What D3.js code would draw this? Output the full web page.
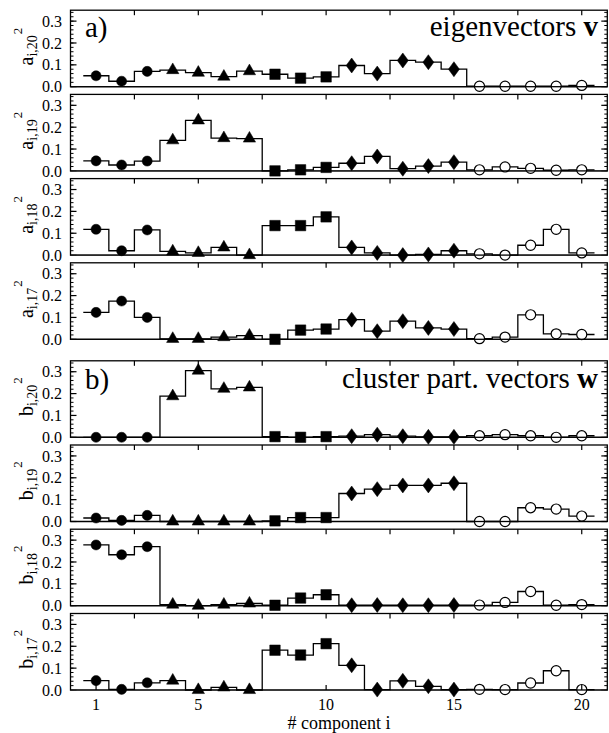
<!DOCTYPE html>
<html><head><meta charset="utf-8">
<script src="https://cdn.jsdelivr.net/npm/d3@7"></script>
<style>body{margin:0;background:#fff}svg{display:block}text{font-family:"Liberation Serif","Times New Roman",serif;fill:#000}</style>
</head><body>
<svg id="c" width="609" height="733"></svg>
<script>
const components = d3.range(1, 21);
const markerGroups = ["circle","circle","circle","triangle","triangle","triangle","triangle","square","square","square","diamond","diamond","diamond","diamond","diamond","open","open","open","open","open"];
const a20 = [0.050,0.025,0.070,0.076,0.064,0.046,0.071,0.057,0.039,0.045,0.097,0.060,0.120,0.112,0.080,0.002,0.002,0.002,0.002,0.006];
const a19 = [0.046,0.027,0.045,0.140,0.231,0.150,0.148,0.000,0.005,0.016,0.035,0.066,0.010,0.022,0.040,0.005,0.018,0.012,0.003,0.005];
const a18 = [0.118,0.020,0.115,0.017,0.010,0.035,0.000,0.135,0.135,0.175,0.035,0.010,0.000,0.003,0.020,0.006,0.000,0.045,0.118,0.010];
const a17 = [0.123,0.175,0.100,0.002,0.002,0.010,0.017,0.000,0.042,0.047,0.090,0.037,0.083,0.052,0.047,0.003,0.010,0.112,0.025,0.022];
const b20 = [0.000,0.000,0.000,0.188,0.305,0.222,0.228,0.003,0.000,0.003,0.005,0.012,0.005,0.002,0.002,0.007,0.012,0.007,0.000,0.007];
const b19 = [0.016,0.005,0.028,0.000,0.000,0.000,0.000,0.003,0.018,0.018,0.128,0.148,0.165,0.165,0.175,0.000,0.000,0.063,0.057,0.025];
const b18 = [0.278,0.233,0.270,0.005,0.000,0.005,0.010,0.002,0.035,0.050,0.002,0.003,0.002,0.002,0.003,0.003,0.015,0.065,0.002,0.005];
const b17 = [0.043,0.003,0.033,0.043,0.000,0.012,0.000,0.182,0.160,0.212,0.113,0.002,0.042,0.017,0.002,0.003,0.002,0.032,0.088,0.002];
const panels = [
  {letter:"a", idx:"20", values:a20},
  {letter:"a", idx:"19", values:a19},
  {letter:"a", idx:"18", values:a18},
  {letter:"a", idx:"17", values:a17},
  {letter:"b", idx:"20", values:b20},
  {letter:"b", idx:"19", values:b19},
  {letter:"b", idx:"18", values:b18},
  {letter:"b", idx:"17", values:b17}
];
const yTicks = [0, 0.1, 0.2, 0.3];
const xTickLabels = [1, 5, 10, 15, 20];
const xTopTicks = [2.5, 5, 7.5, 10, 12.5, 15, 17.5, 20];

const svg = d3.select("#c");
const x = d3.scaleLinear().domain([0, 21]).range([70.5, 607.3]);
const panelH = 76.5;
const zeroYs = [86.7, 170.9, 255.1, 339.3, 437.3, 521.5, 605.7, 690];

function diamond(w, h){ return `M0,${-h/2}L${w/2},0L0,${h/2}L${-w/2},0Z`; }
function markerPath(kind){
  if (kind === "triangle") return d3.symbol(d3.symbolTriangle, 66)();
  if (kind === "square") return d3.symbol(d3.symbolSquare, 110)();
  if (kind === "diamond") return diamond(11, 15);
  return d3.symbol(d3.symbolCircle, 80)();
}

panels.forEach((p, k) => {
  const y0 = zeroYs[k];
  const y = d3.scaleLinear().domain([0, 0.35]).range([y0, y0 - panelH]);
  const g = svg.append("g");
  const top = y(0.35);

  const minor = d3.range(0, 0.351, 0.02);
  g.selectAll(".ml").data(minor).join("line")
    .attr("x1", x(0)).attr("x2", x(0) + 3).attr("y1", d => y(d)).attr("y2", d => y(d))
    .attr("stroke", "#000").attr("stroke-width", 1);
  g.selectAll(".mr").data(minor).join("line")
    .attr("x1", x(21)).attr("x2", x(21) - 3).attr("y1", d => y(d)).attr("y2", d => y(d))
    .attr("stroke", "#000").attr("stroke-width", 1);
  g.selectAll(".Ml").data(yTicks).join("line")
    .attr("x1", x(0)).attr("x2", x(0) + 6).attr("y1", d => y(d)).attr("y2", d => y(d))
    .attr("stroke", "#000").attr("stroke-width", 1.2);
  g.selectAll(".Mr").data(yTicks).join("line")
    .attr("x1", x(21)).attr("x2", x(21) - 6).attr("y1", d => y(d)).attr("y2", d => y(d))
    .attr("stroke", "#000").attr("stroke-width", 1.2);
  g.selectAll(".yl").data(yTicks).join("text")
    .attr("x", 62).attr("y", d => y(d)).attr("dy", "0.35em")
    .attr("text-anchor", "end").attr("font-size", 16).text(d => d.toFixed(1));

  g.selectAll(".xt").data(xTopTicks).join("line")
    .attr("x1", d => x(d)).attr("x2", d => x(d)).attr("y1", top).attr("y2", top + 5)
    .attr("stroke", "#000").attr("stroke-width", 1.2);

  g.append("line").attr("x1", x(0)).attr("x2", x(21)).attr("y1", y0).attr("y2", y0)
    .attr("stroke", "#888").attr("stroke-width", 1.5);

  const pts = [];
  p.values.forEach((v, i) => { const c = components[i]; pts.push([c - 0.5, v], [c + 0.5, v]); });
  const line = d3.line().x(d => x(d[0])).y(d => y(d[1]));
  g.append("path").attr("d", line(pts)).attr("fill", "none")
    .attr("stroke", "#000").attr("stroke-width", 1.3);

  g.selectAll(".mk").data(p.values).join("path")
    .attr("transform", (d, i) => `translate(${x(components[i])},${y(d)})`)
    .attr("d", (d, i) => markerPath(markerGroups[i]))
    .attr("fill", (d, i) => markerGroups[i] === "open" ? "#fff" : "#000")
    .attr("stroke", "#000").attr("stroke-width", (d, i) => markerGroups[i] === "open" ? 1.2 : 0.5);

  g.append("rect").attr("x", x(0)).attr("y", top).attr("width", x(21) - x(0)).attr("height", y0 - top)
    .attr("fill", "none").attr("stroke", "#000").attr("stroke-width", 1.3);

  const cy = (y0 + top) / 2 + 17;
  const t = g.append("text").attr("transform", `translate(33,${cy}) rotate(-90)`);
  t.append("tspan").attr("font-size", 20).text(p.letter);
  t.append("tspan").attr("font-size", 14).attr("dy", 4).text("i," + p.idx);
  t.append("tspan").attr("font-size", 13).attr("dy", -15).attr("dx", 1).text("2");

  if (k === 7) {
    g.selectAll(".xb").data(xTickLabels).join("line")
      .attr("x1", d => x(d)).attr("x2", d => x(d)).attr("y1", y0).attr("y2", y0 - 5)
      .attr("stroke", "#000").attr("stroke-width", 1.2);
    g.selectAll(".xl").data(xTickLabels).join("text")
      .attr("x", d => x(d)).attr("y", y0 + 20).attr("text-anchor", "middle")
      .attr("font-size", 16).text(d => d);
  }
});

svg.append("text").attr("x", 85).attr("y", 37).attr("font-size", 29).text("a)");
const ev = svg.append("text").attr("x", 598).attr("y", 36).attr("font-size", 29).attr("text-anchor", "end");
ev.append("tspan").text("eigenvectors ");
ev.append("tspan").attr("font-weight", "bold").text("v");
svg.append("text").attr("x", 85).attr("y", 389).attr("font-size", 29).text("b)");
const cp = svg.append("text").attr("x", 598).attr("y", 388).attr("font-size", 29).attr("text-anchor", "end");
cp.append("tspan").text("cluster part. vectors ");
cp.append("tspan").attr("font-weight", "bold").text("w");
svg.append("text").attr("x", 339).attr("y", 729).attr("font-size", 18).attr("text-anchor", "middle").text("# component i");
</script>
</body></html>
